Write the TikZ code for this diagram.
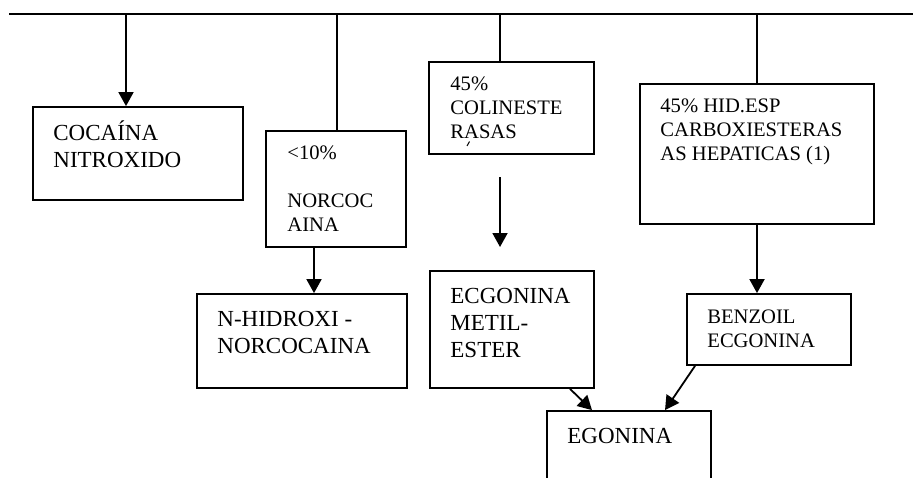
\documentclass[tikz,border=0pt]{standalone}
\usepackage{fontspec}
\setmainfont{Liberation Serif}
\usetikzlibrary{arrows.meta, positioning}
\newcommand{\topstrut}{\rule{0pt}{10pt}}

\begin{document}
\begin{tikzpicture}[
        x=0.5pt, y=-0.5pt,
        stepbox/.style={rectangle, draw=black, line width=0.9pt, inner sep=0pt},
        txt/.style={anchor=north west, inner sep=0pt, align=left, font=\fontsize{11.5}{13.5}\selectfont},
        txtsm/.style={txt, font=\fontsize{10.3}{12}\selectfont},
        bar/.style={line width=0.9pt},
        arrow/.style={->, line width=0.9pt, >={Triangle[length=7pt, width=7.5pt]}}
    ]
        \clip (0,0) rectangle (913,477);

        % Top bar
        \coordinate (bar-l) at (9,14);
        \coordinate (bar-r) at (913,14);
        \coordinate (t1) at (126,14);
        \coordinate (t2) at (337,14);
        \coordinate (t3) at (500,14);
        \coordinate (t4) at (757,14);
        \draw[bar] (bar-l) -- (bar-r);

        % First row
        \node[stepbox, minimum width=105pt, minimum height=46.5pt] (coc) at (138,153.5) {};
        \node[txt] (coc-t) at (53,120) {\topstrut COCAÍNA\\NITROXIDO};

        \node[stepbox, minimum width=70pt, minimum height=58pt] (norc) at (336,189) {};
        \node[txtsm] (norc-t) at (287,139) {\topstrut <10\%\\[12pt]NORCOC\\AINA};

        \node[stepbox, minimum width=82.5pt, minimum height=46pt] (colin) at (511.5,108) {};
        \node[txtsm] (colin-t) at (450,70) {\topstrut 45\%\\COLINESTE\\RASAS};
        \draw[line width=0.5pt] (467,146) -- (469.5,141.5);

        \node[stepbox, minimum width=117pt, minimum height=70pt] (hid) at (757,154) {};
        \node[txtsm] (hid-t) at (660,92) {\topstrut 45\% HID.ESP\\CARBOXIESTERAS\\AS HEPATICAS (1)};

        % Second row
        \node[stepbox, minimum width=105pt, minimum height=47pt] (nhid) at (302,341) {};
        \node[txt] (nhid-t) at (217,306) {\topstrut N-HIDROXI -\\NORCOCAINA};

        \node[stepbox, minimum width=82pt, minimum height=58.5pt] (ecme) at (512,329.5) {};
        \node[txt] (ecme-t) at (450,283) {\topstrut ECGONINA\\METIL-\\ESTER};

        \node[stepbox, minimum width=82pt, minimum height=35.5pt] (benz) at (769,329.5) {};
        \node[txtsm] (benz-t) at (707,303) {\topstrut BENZOIL\\ECGONINA};

        % Bottom
        \node[stepbox, minimum width=82pt, minimum height=65pt] (egon) at (629,476) {};
        \node[txt] (egon-t) at (567,423) {\topstrut EGONINA};

        \coordinate (free-a) at (500,177);
        \coordinate (free-b) at (500,247);

        % Arrows
        \draw[arrow] (t1) -- (t1 |- coc.north);
        \draw[bar] (t2) -- (t2 |- norc.north);
        \draw[bar] (t3) -- (t3 |- colin.north);
        \draw[bar] (t4) -- (t4 |- hid.north);
        \draw[arrow] (free-a) -- (free-b);
        \draw[arrow] ([xshift=-11pt]norc.south) -- ([xshift=-11pt]norc.south |- nhid.north);
        \draw[arrow] (hid.south) -- (hid.south |- benz.north);
        \draw[arrow] ([xshift=29pt]ecme.south) -- ([xshift=-18.5pt]egon.north);
        \draw[arrow] ([xshift=-37pt]benz.south) -- ([xshift=18pt]egon.north);
\end{tikzpicture}
\end{document}
